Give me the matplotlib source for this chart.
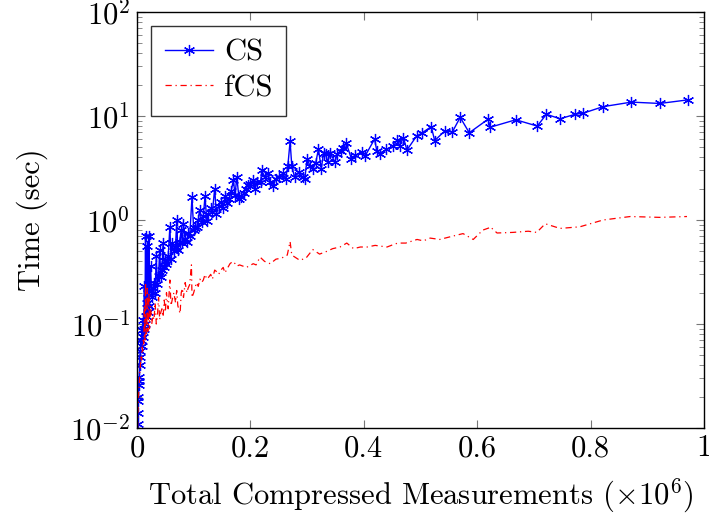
import matplotlib
matplotlib.use("Agg")
import matplotlib.pyplot as plt

plt.rcParams['font.family'] = 'serif'
plt.rcParams['font.serif'] = ['cmr10', 'DejaVu Serif']
plt.rcParams['mathtext.fontset'] = 'cm'
plt.rcParams['axes.formatter.use_mathtext'] = True

# ---------------- data (x in units of 1e6 measurements) ----------------
cs_x = [0.001, 0.0015, 0.002, 0.0025, 0.003, 0.0035, 0.004, 0.0045, 0.005, 0.006,
        0.007, 0.008, 0.009, 0.010, 0.011, 0.012, 0.013, 0.014, 0.015, 0.016,
        0.017, 0.018, 0.019, 0.020, 0.021, 0.022, 0.024, 0.026, 0.028, 0.030,
        0.032, 0.034, 0.036, 0.038, 0.040, 0.042, 0.044, 0.046, 0.048, 0.050,
        0.052, 0.055, 0.058, 0.060, 0.062, 0.065, 0.068, 0.070, 0.072, 0.075,
        0.078, 0.080, 0.082, 0.085, 0.088, 0.090, 0.093, 0.097, 0.100, 0.102,
        0.105, 0.108, 0.111, 0.114, 0.117, 0.120, 0.123, 0.126, 0.130, 0.133,
        0.137, 0.140, 0.144, 0.148, 0.152, 0.155, 0.159, 0.163, 0.166, 0.170,
        0.173, 0.176, 0.180, 0.184, 0.188, 0.192, 0.196, 0.200, 0.205, 0.208,
        0.212, 0.218, 0.220, 0.225, 0.231, 0.235, 0.240, 0.245, 0.250, 0.257,
        0.262, 0.266, 0.270, 0.273, 0.278, 0.285, 0.293, 0.296, 0.300, 0.305,
        0.310, 0.315, 0.320, 0.325, 0.329, 0.333, 0.336, 0.341, 0.349, 0.353,
        0.360, 0.364, 0.369, 0.378, 0.385, 0.396, 0.402, 0.419, 0.423, 0.428,
        0.440, 0.452, 0.459, 0.463, 0.470, 0.476, 0.493, 0.503, 0.519, 0.525,
        0.543, 0.556, 0.570, 0.586, 0.619, 0.623, 0.668, 0.706, 0.722, 0.746,
        0.773, 0.786, 0.822, 0.872, 0.922, 0.972]
cs_t = [0.011, 0.014, 0.020, 0.018, 0.026, 0.031, 0.028, 0.040, 0.048, 0.055,
        0.070, 0.062, 0.088, 0.075, 0.11, 0.09, 0.23, 0.10, 0.70, 0.12,
        0.16, 0.56, 0.13, 0.20, 0.70, 0.15, 0.36, 0.18, 0.22, 0.25,
        0.20, 0.45, 0.24, 0.29, 0.52, 0.28, 0.33, 0.60, 0.35, 0.40,
        0.38, 0.45, 0.86, 0.42, 0.60, 0.50, 0.55, 1.00, 0.52, 0.62,
        0.80, 0.60, 0.92, 0.65, 0.62, 0.75, 0.70, 1.65, 0.80, 0.83,
        0.85, 1.00, 1.25, 0.95, 1.10, 1.70, 0.98, 1.15, 1.30, 1.20,
        2.00, 1.14, 1.35, 1.50, 1.30, 1.70, 1.45, 1.60, 1.90, 2.40,
        1.75, 2.60, 1.60, 1.67, 1.80, 2.00, 2.15, 2.20, 2.40, 2.00,
        2.30, 2.30, 3.00, 2.60, 2.85, 2.30, 2.10, 2.50, 2.60, 2.80,
        2.50, 3.30, 5.70, 3.30, 2.57, 2.90, 2.57, 2.50, 3.90, 3.30,
        3.10, 3.50, 4.80, 3.10, 4.40, 4.30, 3.60, 4.40, 3.60, 4.30,
        4.60, 4.90, 5.50, 3.90, 4.20, 4.50, 4.10, 6.00, 4.60, 4.30,
        4.80, 5.10, 5.90, 5.20, 6.20, 4.70, 6.40, 6.90, 7.90, 5.80,
        7.20, 7.00, 9.70, 6.90, 9.30, 7.80, 9.20, 8.00, 10.4, 9.40,
        10.4, 10.6, 12.3, 13.6, 13.2, 14.3]

fcs_x = [0.001, 0.002, 0.003, 0.004, 0.005, 0.006, 0.007, 0.008, 0.009, 0.010,
         0.011, 0.012, 0.013, 0.014, 0.015, 0.016, 0.017, 0.018, 0.019, 0.020,
         0.021, 0.022, 0.024, 0.026, 0.028, 0.030, 0.032, 0.034, 0.036, 0.038,
         0.040, 0.042, 0.044, 0.046, 0.048, 0.050, 0.052, 0.055, 0.058, 0.060,
         0.062, 0.065, 0.068, 0.070, 0.072, 0.076, 0.078, 0.080, 0.082, 0.085,
         0.088, 0.090, 0.093, 0.096, 0.097, 0.100, 0.102, 0.105, 0.108, 0.111,
         0.114, 0.117, 0.120, 0.123, 0.126, 0.130, 0.133, 0.137, 0.140, 0.144,
         0.148, 0.152, 0.155, 0.159, 0.164, 0.169, 0.173, 0.176, 0.181, 0.193,
         0.205, 0.210, 0.217, 0.225, 0.235, 0.245, 0.255, 0.265, 0.270, 0.273,
         0.287, 0.298, 0.310, 0.322, 0.335, 0.345, 0.358, 0.370, 0.382, 0.394,
         0.406, 0.420, 0.441, 0.452, 0.460, 0.474, 0.494, 0.505, 0.517, 0.534,
         0.557, 0.575, 0.593, 0.610, 0.621, 0.623, 0.635, 0.663, 0.690, 0.705,
         0.720, 0.746, 0.781, 0.822, 0.870, 0.922, 0.970]
fcs_t = [0.010, 0.016, 0.022, 0.026, 0.035, 0.040, 0.050, 0.045, 0.060, 0.055,
         0.070, 0.065, 0.150, 0.070, 0.250, 0.080, 0.090, 0.220, 0.085, 0.100,
         0.200, 0.090, 0.150, 0.100, 0.120, 0.110, 0.160, 0.100, 0.120, 0.180,
         0.110, 0.130, 0.140, 0.117, 0.170, 0.130, 0.200, 0.140, 0.265, 0.150,
         0.170, 0.200, 0.160, 0.210, 0.150, 0.126, 0.200, 0.220, 0.180, 0.250,
         0.200, 0.220, 0.240, 0.370, 0.180, 0.200, 0.220, 0.250, 0.230, 0.270,
         0.250, 0.265, 0.300, 0.270, 0.280, 0.300, 0.270, 0.330, 0.320, 0.300,
         0.330, 0.350, 0.310, 0.340, 0.380, 0.400, 0.380, 0.360, 0.370, 0.350,
         0.380, 0.370, 0.440, 0.400, 0.380, 0.420, 0.430, 0.460, 0.620, 0.460,
         0.410, 0.430, 0.520, 0.470, 0.500, 0.530, 0.550, 0.600, 0.530, 0.550,
         0.550, 0.570, 0.550, 0.580, 0.600, 0.600, 0.650, 0.630, 0.670, 0.650,
         0.700, 0.740, 0.650, 0.800, 0.840, 0.860, 0.750, 0.760, 0.780, 0.760,
         0.920, 0.830, 0.860, 1.000, 1.080, 1.060, 1.080]

x_ticks = [0, 0.2, 0.4, 0.6, 0.8, 1.0]
x_tick_labels = ['0', '0.2', '0.4', '0.6', '0.8', '1']
y_ticks = [1e-2, 1e-1, 1e0, 1e1, 1e2]
y_tick_labels = [r'$10^{-2}$', r'$10^{-1}$', r'$10^{0}$', r'$10^{1}$', r'$10^{2}$']

FS = 22

# ---------------- figure ----------------
fig = plt.figure(figsize=(7.09, 5.19), dpi=100)
ax = fig.add_axes([137/709, 1 - 428/519, (704 - 137)/709, (428 - 12)/519])

ax.plot(cs_x, cs_t, color='blue', lw=1.0, marker=(6, 2, 0), markersize=8,
        markeredgewidth=0.9, label='CS')
ax.plot(fcs_x, fcs_t, color='red', lw=0.9, linestyle=(0, (5, 3, 1, 3)),
        label='fCS')

ax.set_yscale('log')
ax.set_xlim(0, 1)
ax.set_ylim(1e-2, 1e2)
ax.set_xticks(x_ticks)
ax.set_xticklabels(x_tick_labels)
ax.set_yticks(y_ticks)
ax.set_yticklabels(y_tick_labels)
ax.tick_params(which='both', direction='in', top=True, right=True,
               labelsize=FS, color='#777777')
ax.tick_params(axis='x', pad=5)
ax.tick_params(axis='y', pad=5)
ax.tick_params(which='major', length=6, width=0.8)
ax.tick_params(which='minor', length=3.5, width=0.6)
for s in ax.spines.values():
    s.set_linewidth(1.0)
    s.set_color('black')

ax.set_xlabel(r'Total Compressed Measurements ($\times10^6$)', fontsize=FS, labelpad=10)
ax.set_ylabel('Time (sec)', fontsize=FS, labelpad=16)

leg = ax.legend(loc='upper left', fontsize=FS, frameon=True, fancybox=False,
                edgecolor='black', borderaxespad=0.45, handlelength=1.6,
                borderpad=0.45, labelspacing=0.25, handletextpad=0.35)
leg.get_frame().set_linewidth(1.0)

fig.savefig('out.png', dpi=100)
